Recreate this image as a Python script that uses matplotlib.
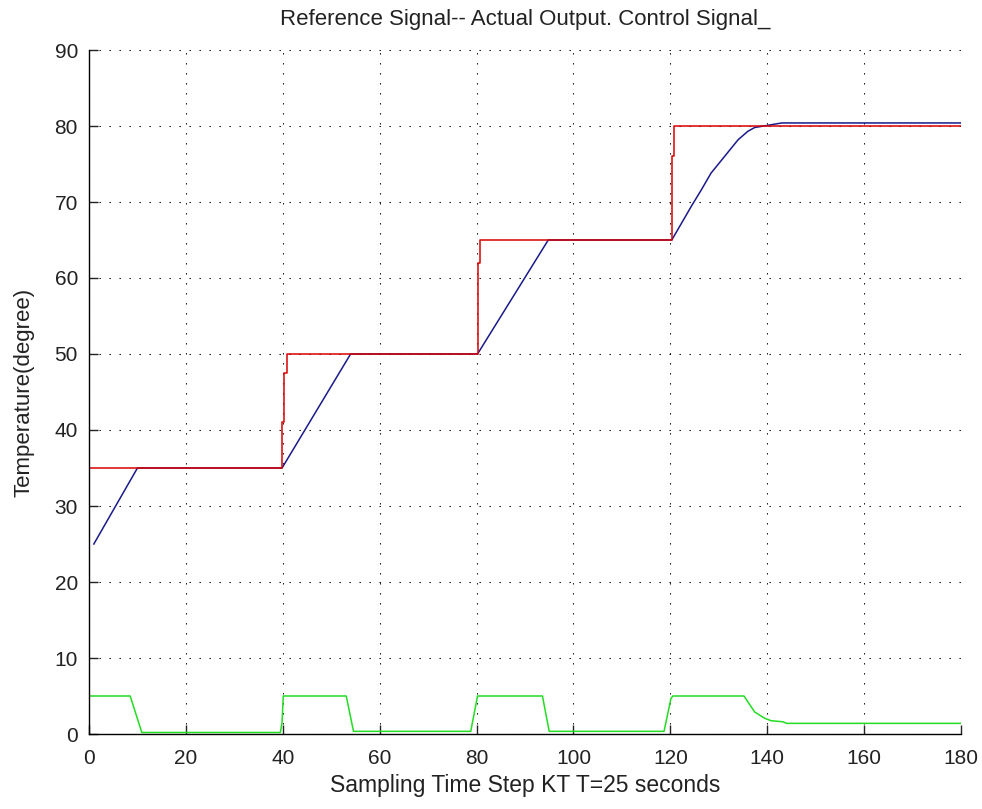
import matplotlib
matplotlib.use("Agg")
import matplotlib.pyplot as plt

# Reference signal (red)
ref_t = [0, 39.85, 39.85, 40.2, 40.2, 40.8, 40.8, 80.2, 80.2, 80.7, 80.7,
         120.3, 120.3, 120.7, 120.7, 180]
ref_y = [35, 35, 41, 41, 47.5, 47.5, 50, 50, 62, 62, 65,
         65, 76, 76, 80, 80]

# Actual output (blue)
out_t = [1, 10, 39.85, 54.0, 80.2, 94.8, 120.3, 124.3, 126.4, 128.4, 131.2,
         134.0, 136.0, 137.4, 140.2, 143.0, 180]
out_y = [25, 35, 35, 50, 50, 65, 65, 69.4, 71.6, 73.8, 76.0,
         78.2, 79.3, 79.8, 80.1, 80.4, 80.4]

# Control signal (green)
ctl_t = [0, 8.5, 10.9, 39.5, 39.85, 40.1, 53.1, 54.6, 78.8, 80.2, 93.6, 95.0,
         118.7, 120.1, 120.5, 135.2, 137.4, 139.5, 140.8, 143.3, 144.0, 180]
ctl_y = [5, 5, 0.2, 0.2, 1.5, 5, 5, 0.35, 0.35, 5, 5, 0.35,
         0.35, 4.6, 5, 5, 2.9, 2.06, 1.75, 1.6, 1.4, 1.4]

xticks = list(range(0, 181, 20))
yticks = list(range(0, 91, 10))

plt.rcParams['font.family'] = ['Liberation Sans', 'DejaVu Sans']

fig = plt.figure(figsize=(9.82, 8.09), dpi=100)
ax = fig.add_axes([89/982, 1 - 734/809, (961 - 89)/982, (734 - 50)/809])

ax.plot(ctl_t, ctl_y, color='#22dd22', lw=1.1)
ax.plot(out_t, out_y, color='#1a1a8c', lw=1.1)
ax.plot(ref_t, ref_y, color='#d80000', lw=1.1)

ax.set_xlim(0, 180)
ax.set_ylim(0, 90)
ax.set_xticks(xticks)
ax.set_yticks(yticks)
ax.grid(True, color='black', linestyle=(0, (1.3, 8.3)), lw=0.75)
for s in ['top', 'right']:
    ax.spines[s].set_visible(False)
for s in ['left', 'bottom']:
    ax.spines[s].set_linewidth(1.0)
ax.tick_params(direction='in', length=6.5, width=1.0, labelsize=15,
               colors='#222222')
ax.tick_params(axis='x', pad=11)
ax.tick_params(axis='y', pad=8)

ax.set_title('Reference Signal-- Actual Output. Control Signal_', fontsize=16,
             pad=18, color='#222222')
ax.set_xlabel('Sampling Time Step KT T=25 seconds', fontsize=16.5, labelpad=4,
              color='#222222')
ax.set_ylabel('Temperature(degree)', fontsize=16, color='#222222')
ax.yaxis.set_label_coords(-0.063, 0.5)

fig.savefig('out.png', dpi=100)
